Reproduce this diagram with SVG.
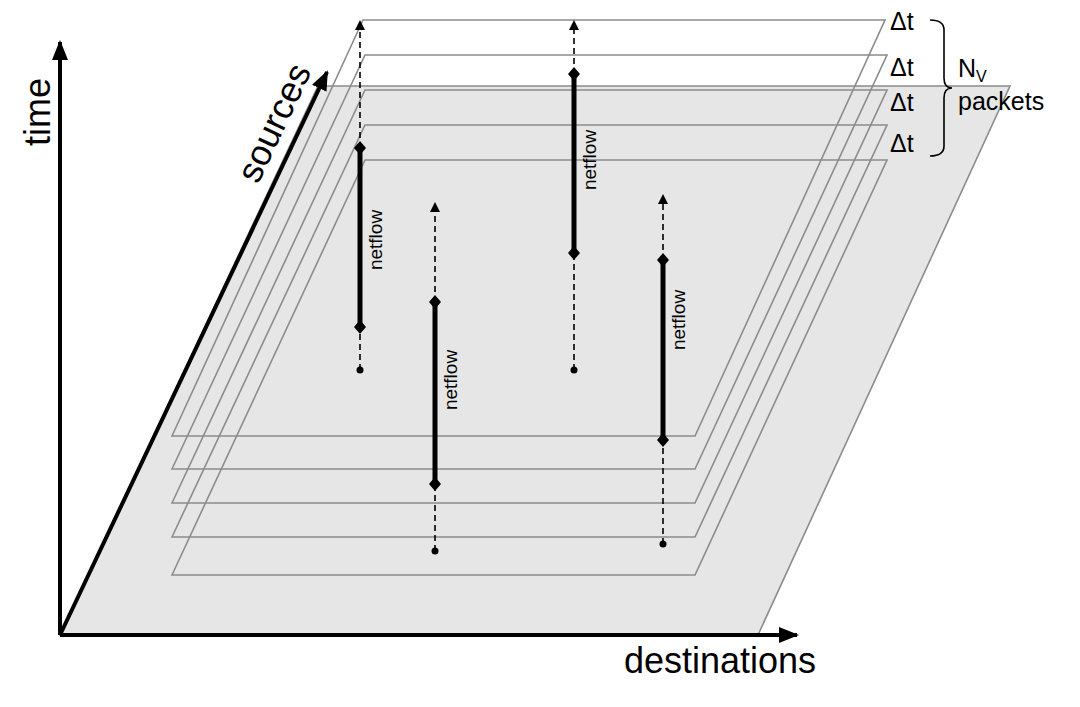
<svg xmlns="http://www.w3.org/2000/svg" width="1080" height="707" viewBox="0 0 1080 707">
<defs>
<style>
.lay{fill:none;stroke:#8c8c8c;stroke-width:1.6}
.ax{stroke:#000;stroke-width:4;fill:none}
.sol{stroke:#000;stroke-width:5}
.dsh{stroke:#000;stroke-width:1.6;stroke-dasharray:6,4}
.t{font-family:"Liberation Sans",Arial,sans-serif;fill:#000}
.nf{font-family:"Liberation Sans",Arial,sans-serif;font-size:19px;fill:#000}
</style>
<marker id="ah" markerWidth="10" markerHeight="10" refX="8" refY="5" orient="auto" markerUnits="userSpaceOnUse" viewBox="0 0 10 10"><path d="M0,0 L10,5 L0,10 Z" fill="#000"/></marker>
<marker id="big" markerWidth="20" markerHeight="16" refX="18" refY="8" orient="auto" markerUnits="userSpaceOnUse" viewBox="0 0 20 16"><path d="M0,0 L20,8 L0,16 Z" fill="#000"/></marker>
<path id="dia" d="M0,-7 L6,0 L0,7 L-6,0 Z"/>
</defs>
<polygon points="60,635 318,86 1010,86 758,635" fill="#e6e6e6" stroke="#8c8c8c" stroke-width="1.6"/>
<g id="layers">
<polygon class="lay" points="172,575 365,160 887,160 695,575"/>
<polygon class="lay" points="172,537 365,125 887,125 695,537"/>
<polygon class="lay" points="172,503 365,90 887,90 695,503"/>
<polygon class="lay" points="172,469 365,55 887,55 695,469"/>
<polygon class="lay" points="172,436 363,20 885,20 695,436"/>
</g>
<g id="axes">
<line class="ax" x1="60" y1="635" x2="60" y2="42" marker-end="url(#big)"/>
<line class="ax" x1="60" y1="635" x2="797" y2="635" marker-end="url(#big)"/>
<line class="ax" x1="60" y1="635" x2="327" y2="72" marker-end="url(#big)"/>
</g>
<g id="connectors">
<line class="dsh" x1="360" y1="370" x2="360" y2="327"/>
<line class="sol" x1="360" y1="327" x2="360" y2="148"/>
<line class="dsh" x1="360" y1="148" x2="360" y2="22" marker-end="url(#ah)"/>
<line class="dsh" x1="435" y1="551" x2="435" y2="484"/>
<line class="sol" x1="435" y1="484" x2="435" y2="302"/>
<line class="dsh" x1="435" y1="302" x2="435" y2="204" marker-end="url(#ah)"/>
<line class="dsh" x1="574" y1="370" x2="574" y2="253"/>
<line class="sol" x1="574" y1="253" x2="574" y2="74"/>
<line class="dsh" x1="574" y1="74" x2="574" y2="22" marker-end="url(#ah)"/>
<line class="dsh" x1="663" y1="544" x2="663" y2="440"/>
<line class="sol" x1="663" y1="440" x2="663" y2="260"/>
<line class="dsh" x1="663" y1="260" x2="663" y2="196" marker-end="url(#ah)"/>
</g>
<g id="flow1"><use href="#dia" x="360" y="327"/><use href="#dia" x="360" y="148"/><circle cx="360" cy="370" r="3.5"/><text class="nf" transform="translate(382,240) rotate(-90)" text-anchor="middle">netflow</text></g>
<g id="flow2"><use href="#dia" x="435" y="484"/><use href="#dia" x="435" y="302"/><circle cx="435" cy="551" r="3.5"/><text class="nf" transform="translate(457,380) rotate(-90)" text-anchor="middle">netflow</text></g>
<g id="flow3"><use href="#dia" x="574" y="253"/><use href="#dia" x="574" y="74"/><circle cx="574" cy="370" r="3.5"/><text class="nf" transform="translate(596,160) rotate(-90)" text-anchor="middle">netflow</text></g>
<g id="flow4"><use href="#dia" x="663" y="440"/><use href="#dia" x="663" y="260"/><circle cx="663" cy="544" r="3.5"/><text class="nf" transform="translate(685,320) rotate(-90)" text-anchor="middle">netflow</text></g>
<g id="labels">
<text class="t" font-size="36" transform="translate(50,112) rotate(-90)" text-anchor="middle">time</text>
<text class="t" font-size="36" transform="translate(285,128) rotate(-64.7)" text-anchor="middle">sources</text>
<text class="t" font-size="36" x="720" y="673" text-anchor="middle">destinations</text>
<text class="t" font-size="25" x="890" y="30">Δt</text>
<text class="t" font-size="25" x="890" y="76">Δt</text>
<text class="t" font-size="25" x="890" y="111">Δt</text>
<text class="t" font-size="25" x="890" y="152">Δt</text>
<text class="t" font-size="25" x="958" y="77">N<tspan font-size="16" dy="5">V</tspan></text>
<text class="t" font-size="25" x="958" y="110">packets</text>
<path d="M930,20 Q944,20 944,30 L944,78 Q944,88 952,88 Q944,88 944,98 L944,146 Q944,156 930,156" fill="none" stroke="#000" stroke-width="1.6"/>
</g>
</svg>
